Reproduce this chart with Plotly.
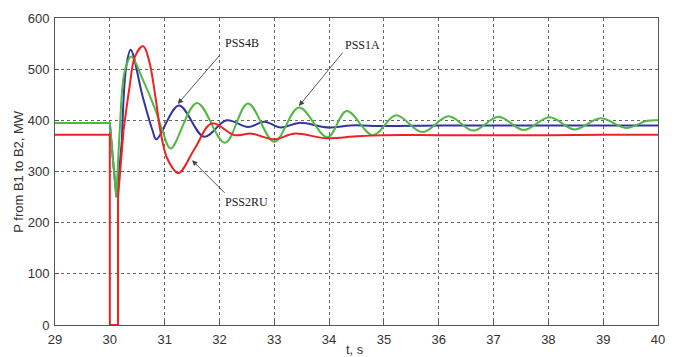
import plotly.graph_objects as go

# ---- data ----
# fast fault transient (drawn with straight segments)
blue_fault_t = [29, 30, 30.06, 30.12, 30.17, 30.22]
blue_fault_v = [395, 395, 320, 250, 300, 361]
green_fault_t = [29, 30, 30.06, 30.12, 30.16, 30.21]
green_fault_v = [395, 395, 320, 250, 340, 439]
red_fault_t = [29, 30, 30, 30.15, 30.15, 30.25]
red_fault_v = [372, 372, 0, 0, 250, 380]

# electromechanical swings (drawn smooth)
blue_t = [30.22, 30.30, 30.38, 30.60, 30.78, 30.85, 31.26, 31.72, 32.13, 32.52, 32.82, 33.12,
          33.45, 34.0, 34.4, 35, 36, 37, 38, 39, 40]
blue_v = [361, 505, 538, 446, 380, 363, 429, 368, 400, 387, 397, 386,
          395, 386, 390, 389, 390, 390, 390, 390, 390]

green_t = [30.21, 30.28, 30.39, 30.60, 30.84, 30.96, 31.11, 31.59, 32.10, 32.52, 33.00, 33.45,
           33.97, 34.32, 34.80, 35.22, 35.70, 36.18, 36.63, 37.09, 37.55, 38.02, 38.48, 38.95,
           39.42, 39.80, 40.0]
green_v = [439, 500, 525, 480, 418, 380, 345, 434, 356, 433, 358, 425,
           367, 418, 371, 410, 377, 408, 380, 407, 381, 406, 382, 404,
           385, 399, 400]

red_t = [30.25, 30.36, 30.46, 30.61, 30.72, 30.84, 30.93, 31.05, 31.25, 31.55, 31.86, 32.28,
         32.58, 33.0, 33.36, 33.96, 34.5, 35, 36, 37, 38, 39, 40]
red_v = [380, 465, 525, 545, 515, 440, 375, 325, 297, 345, 394, 371,
         374, 363, 374, 365, 369, 371, 371, 371, 371, 372, 372]

x_ticks = list(range(29, 41))
y_ticks = [0, 100, 200, 300, 400, 500, 600]

BLUE = "#34349e"
GREEN = "#52b844"
RED = "#ee2222"

fig = go.Figure()
for (ft, fv, t, v, c) in [
    (blue_fault_t, blue_fault_v, blue_t, blue_v, BLUE),
    (green_fault_t, green_fault_v, green_t, green_v, GREEN),
    (red_fault_t, red_fault_v, red_t, red_v, RED),
]:
    fig.add_trace(go.Scatter(x=ft, y=fv, mode="lines",
                             line=dict(color=c, width=2), showlegend=False))
    fig.add_trace(go.Scatter(x=t, y=v, mode="lines",
                             line=dict(color=c, width=2, shape="spline", smoothing=1.0),
                             showlegend=False))

tick_font = dict(family="Liberation Sans, Arial", size=13, color="#333333")
fig.update_xaxes(range=[29, 40], tickvals=x_ticks, ticktext=[str(v) for v in x_ticks],
                 showgrid=True, gridcolor="#666666", griddash="dot", gridwidth=1,
                 showline=True, linecolor="#555555", linewidth=1, mirror=True,
                 ticks="inside", ticklen=4, tickcolor="#555555",
                 tickfont=tick_font, zeroline=False, ticklabelstandoff=2)
fig.update_yaxes(range=[0, 600], tickvals=y_ticks, ticktext=[str(v) for v in y_ticks],
                 showgrid=True, gridcolor="#666666", griddash="dot", gridwidth=1,
                 showline=True, linecolor="#555555", linewidth=1, mirror=True,
                 ticks="inside", ticklen=4, tickcolor="#555555",
                 tickfont=tick_font, zeroline=False, ticklabelstandoff=2)

serif = dict(family="Liberation Serif, Times New Roman", size=12, color="#222222")
arrow_kw = dict(showarrow=True, arrowhead=2, arrowsize=1.2, arrowwidth=0.9,
                arrowcolor="#444444", axref="pixel", ayref="pixel", text="")
annotations = [
    # arrows (head in data coords, tail offset in pixels)
    dict(x=31.24, y=432, xref="x", yref="y", ax=43, ay=-50, **arrow_kw),
    dict(x=33.45, y=428, xref="x", yref="y", ax=45, ay=-55, **arrow_kw),
    dict(x=31.50, y=322, xref="x", yref="y", ax=34, ay=34, **arrow_kw),
    # labels
    dict(x=32.41, y=551, xref="x", yref="y", text="PSS4B", showarrow=False, font=serif),
    dict(x=34.61, y=547, xref="x", yref="y", text="PSS1A", showarrow=False, font=serif),
    dict(x=32.50, y=240, xref="x", yref="y", text="PSS2RU", showarrow=False, font=serif),
    # axis titles
    dict(x=-0.061, y=0.5, xref="paper", yref="paper", text="P from B1 to B2, MW",
         textangle=-90, showarrow=False, xanchor="center", yanchor="middle",
         font=dict(family="Liberation Sans, Arial", size=13, color="#333333")),
    dict(x=0.497, y=-0.079, xref="paper", yref="paper", text="t, s", showarrow=False,
         font=dict(family="Liberation Sans, Arial", size=13, color="#333333"),
         xanchor="center", yanchor="middle"),
]

fig.update_layout(width=675, height=357,
                  margin=dict(l=55, r=10, t=18, b=32),
                  plot_bgcolor="white", paper_bgcolor="white",
                  annotations=annotations)

fig.write_html("out.html", config={"displayModeBar": False},
               post_script="document.body.style.margin='0px';document.body.style.overflow='hidden';")
